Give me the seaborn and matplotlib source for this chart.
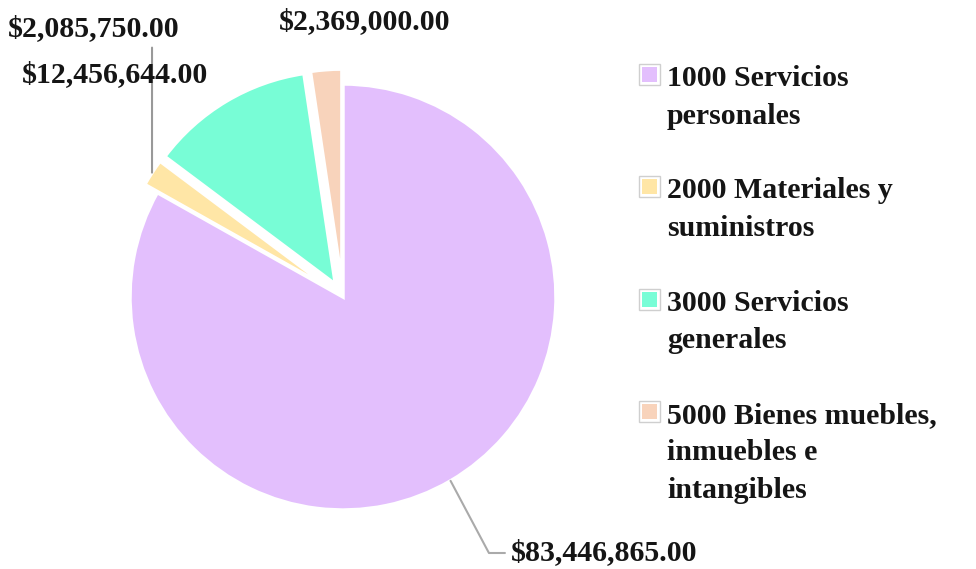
import matplotlib
matplotlib.use("Agg")
import matplotlib.pyplot as plt
from matplotlib.patches import Rectangle
import numpy as np
import seaborn as sns

# Data
categories = [
    "1000 Servicios\npersonales",
    "2000 Materiales y\nsuministros",
    "3000 Servicios\ngenerales",
    "5000 Bienes muebles,\ninmuebles e\nintangibles",
]
amounts = [83446865.00, 2085750.00, 12456644.00, 2369000.00]
colors = ["#e3bffd", "#ffe6a6", "#78fdd6", "#f8d3bb"]
explode = [0, 0.07, 0.07, 0.07]

sns.set_theme(style="white")
plt.rcParams["font.family"] = ["Liberation Serif", "DejaVu Serif"]
plt.rcParams["font.weight"] = "bold"

W, H, DPI = 976, 569, 100
fig = plt.figure(figsize=(W / DPI, H / DPI), dpi=DPI)

# pie axes: centre (343, 297) px, radius ~213 px
r_px = 213
lim = 1.2
side = 2 * lim * r_px
cx, cy = 343, H - 297
ax = fig.add_axes([(cx - side / 2) / W, (cy - side / 2) / H, side / W, side / H])

wedges, _ = ax.pie(
    amounts,
    colors=colors,
    explode=explode,
    startangle=90,
    counterclock=False,
    radius=1,
    wedgeprops=dict(edgecolor="white", linewidth=2.5),
)
ax.set_xlim(-lim, lim)
ax.set_ylim(-lim, lim)
ax.axis("off")


def outer_point(w):
    ang = np.deg2rad((w.theta1 + w.theta2) / 2)
    x0, y0 = w.center
    return x0 + w.r * np.cos(ang), y0 + w.r * np.sin(ang)


labels = ["${:,.2f}".format(v) for v in amounts]
fs = 21.5
txt = dict(fontsize=fs, fontweight="bold", color="#151515")

# purple slice: leader line down-right then horizontal
ax.annotate(
    labels[0], xy=outer_point(wedges[0]), xycoords="data",
    xytext=(511, H - 553), textcoords="figure pixels",
    ha="left", va="center",
    arrowprops=dict(arrowstyle="-", color="#aaaaaa", lw=1.5,
                    connectionstyle="angle,angleA=0,angleB=-62",
                    shrinkA=2, shrinkB=0),
    **txt,
)

# yellow slice: vertical leader line up under its label
ax.annotate(
    "", xy=outer_point(wedges[1]), xycoords="data",
    xytext=(0, 125), textcoords="offset pixels",
    arrowprops=dict(arrowstyle="-", color="#999999", lw=1.5,
                    shrinkA=0, shrinkB=0),
)
fig.text(8 / W, 1 - 29 / H, labels[1], ha="left", va="center", **txt)
fig.text(22 / W, 1 - 75 / H, labels[2], ha="left", va="center", **txt)
fig.text(279 / W, 1 - 22 / H, labels[3], ha="left", va="center", **txt)

# legend: square swatch beside the first line of each wrapped label
leg_top = [78, 190, 303, 415]
for y, name, col in zip(leg_top, categories, colors):
    fig.patches.append(Rectangle((639 / W, 1 - (y + 7) / H), 21 / W, 21 / H,
                                 transform=fig.transFigure, facecolor="white",
                                 edgecolor="#cfcfcf", linewidth=1))
    fig.patches.append(Rectangle((642 / W, 1 - (y + 4) / H), 15 / W, 15 / H,
                                 transform=fig.transFigure, facecolor=col,
                                 edgecolor="none"))
    fig.text(667 / W, 1 - (y - 13) / H, name, ha="left", va="top",
             linespacing=1.5, **txt)

fig.savefig("out.png", dpi=DPI)
